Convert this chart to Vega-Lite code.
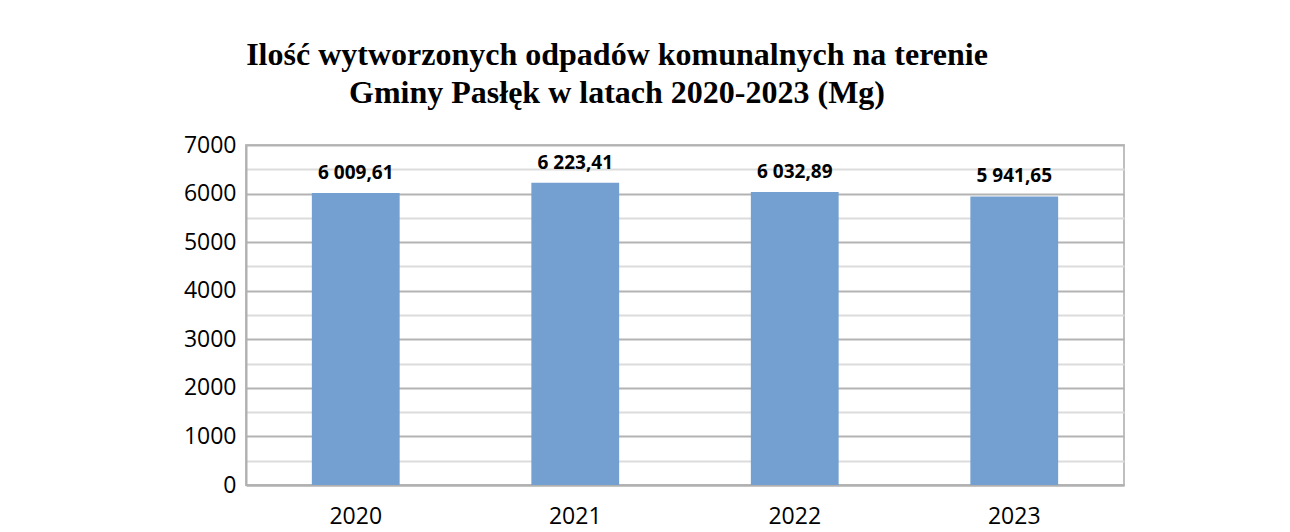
{
  "$schema": "https://vega.github.io/schema/vega-lite/v6.json",
  "width": 878,
  "height": 340,
  "autosize": {"type": "none"},
  "padding": {"left": 246, "top": 145, "right": 166, "bottom": 47},
  "background": "white",
  "title": {
    "text": ["Ilość wytworzonych odpadów komunalnych na terenie", "Gminy Pasłęk w latach 2020-2023 (Mg)"],
    "font": "Liberation Serif",
    "fontSize": 32,
    "fontWeight": "bold",
    "color": "#000000",
    "anchor": "middle",
    "dx": -68,
    "lineHeight": 38,
    "offset": 24
  },
  "data": {
    "values": [
      {"rok": "2020", "wartosc": 6009.61, "etykieta": "6 009,61"},
      {"rok": "2021", "wartosc": 6223.41, "etykieta": "6 223,41"},
      {"rok": "2022", "wartosc": 6032.89, "etykieta": "6 032,89"},
      {"rok": "2023", "wartosc": 5941.65, "etykieta": "5 941,65"}
    ]
  },
  "encoding": {
    "x": {
      "field": "rok",
      "type": "nominal",
      "sort": null,
      "scale": {"paddingInner": 0.6, "paddingOuter": 0.3},
      "axis": {
        "title": null,
        "labelAngle": 0,
        "labelFont": "Open Sans",
        "labelFontSize": 23,
        "labelColor": "#000000",
        "labelPadding": 20,
        "ticks": false,
        "grid": false,
        "domainColor": "#b0b0b0",
        "domainWidth": 2
      }
    },
    "y": {
      "field": "wartosc",
      "type": "quantitative",
      "scale": {"domain": [0, 7000], "nice": false},
      "axis": {
        "title": null,
        "values": [0, 500, 1000, 1500, 2000, 2500, 3000, 3500, 4000, 4500, 5000, 5500, 6000, 6500, 7000],
        "labelExpr": "datum.value % 1000 === 0 ? datum.value : ''",
        "labelFont": "Open Sans",
        "labelFontSize": 23,
        "labelColor": "#000000",
        "labelPadding": 10,
        "ticks": false,
        "grid": true,
        "gridColor": {"condition": {"test": "datum.value % 1000 === 0", "value": "#b3b3b3"}, "value": "#dcdcdc"},
        "gridWidth": 2,
        "domainColor": "#b0b0b0",
        "domainWidth": 2
      }
    }
  },
  "layer": [
    {
      "mark": {"type": "bar", "color": "#73a0d0"}
    },
    {
      "mark": {
        "type": "text",
        "baseline": "middle",
        "dy": -20,
        "font": "Open Sans",
        "fontSize": 19,
        "fontWeight": "bold",
        "color": "#000000"
      },
      "encoding": {"text": {"field": "etykieta"}}
    }
  ],
  "config": {
    "view": {"stroke": "#bfbfbf", "strokeWidth": 2}
  }
}
